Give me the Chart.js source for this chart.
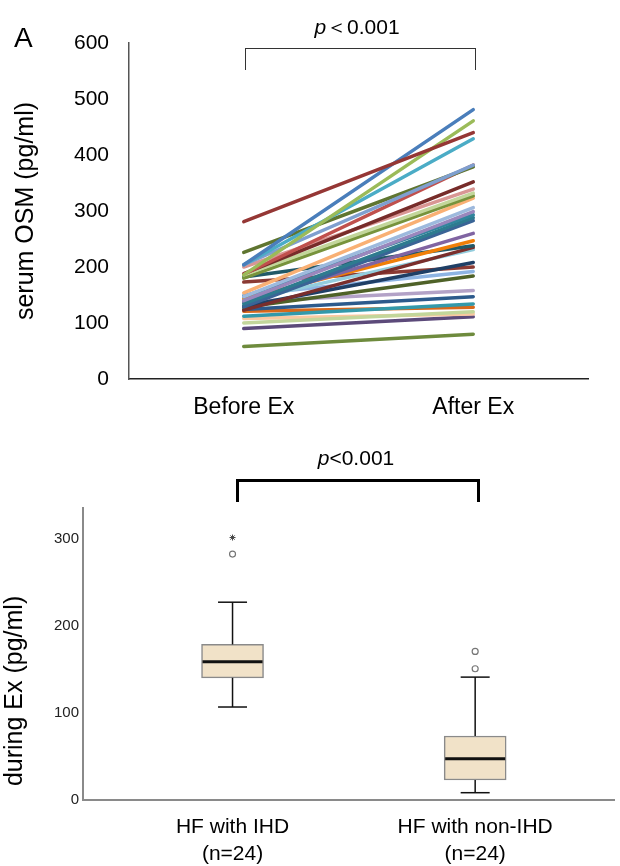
<!DOCTYPE html>
<html><head><meta charset="utf-8">
<script src="https://cdn.jsdelivr.net/npm/chart.js@4.4.1/dist/chart.umd.min.js"></script>
<style>
html,body{margin:0;padding:0;background:#fff;}
body{width:620px;height:866px;position:relative;overflow:hidden;font-family:"Liberation Sans",Arial,sans-serif;}
canvas{position:absolute;left:0;}
.t{position:absolute;white-space:nowrap;color:#000;text-align:center;}
.br{position:absolute;border-bottom:none !important;}
</style></head><body>
<canvas id="c1" width="620" height="440" style="top:0"></canvas>
<canvas id="c2" width="620" height="426" style="top:440px"></canvas>

<div class="t" style="left:14px;top:24px;font-size:28px;line-height:28px;">A</div>
<div class="t" style="left:257px;top:16px;width:200px;font-size:21px;line-height:21px;"><i>p</i>＜0.001</div>
<div class="br" style="left:245px;top:48px;width:229px;height:21px;border:1.5px solid #333;"></div>

<div class="t" style="left:256px;top:447px;width:200px;font-size:21px;line-height:21px;"><i>p</i>&lt;0.001</div>
<div class="br" style="left:236px;top:479px;width:238px;height:20px;border:3px solid #000;"></div>

<script>
// ---------- Panel A data ----------
const categories = ['Before Ex', 'After Ex'];
const beforeEx = [281, 204, 186, 204, 204, 226, 187, 188, 200, 186, 180, 154, 147, 140, 147, 134, 129, 138, 143, 182, 123, 140, 130, 173, 150, 128, 138, 124, 112, 121, 100, 108, 90, 58];
const afterEx  = [440, 481, 461, 429, 382, 379, 382, 352, 339, 332, 327, 323, 306, 299, 293, 288, 283, 260, 247, 238, 235, 231, 208, 200, 192, 184, 158, 147, 134, 128, 120, 116, 111, 80];
const lineColors = ['#953735','#4A7EBB','#9BBB59','#4BACC6','#7F9FCF','#5F7530','#C0504D','#772C2A','#D99694','#C3D69B','#77933C','#F9B074','#9DB9DD','#9A87BD','#31859C','#2E7B8F','#3A6496','#8064A2','#F07F09','#215968','#7A2E2C','#93CDDD','#1F3F66','#8B3A33','#8EB4E3','#4F6228','#B3A2C7','#2C5A8C','#3399AA','#D8681A','#C3D69B','#FAC8A0','#5C4A7A','#6E8B3D'];
const yTicksA = [0, 100, 200, 300, 400, 500, 600];

// ---------- Panel B data ----------
const groupLabels = [['HF with IHD', '(n=24)'], ['HF with non-IHD', '(n=24)']];
const groupPos = [1, 2];
const whiskerLow  = [107, 8.4];
const q1          = [140.6, 23];
const median      = [159, 47.5];
const q3          = [179, 73.6];
const whiskerHigh = [227.6, 141.4];
const outlierCircleGroup = [1, 2, 2];
const outlierCircleValue = [283, 171, 151];
const outlierStarGroup = [1];
const outlierStarValue = [302];
const yTicksB = [0, 100, 200, 300];

const FONT = '"Liberation Sans", Arial, sans-serif';

// ---------- Chart A ----------
new Chart(document.getElementById('c1'), {
  type: 'line',
  data: {
    labels: categories,
    datasets: beforeEx.map((b, i) => ({
      data: [b, afterEx[i]],
      borderColor: lineColors[i],
      borderWidth: 3.5,
      borderCapStyle: 'round',
      pointRadius: 0,
      fill: false,
      tension: 0
    }))
  },
  options: {
    responsive: false,
    animation: false,
    events: [],
    layout: { padding: { left: 0, top: 43, right: 32, bottom: 0 } },
    plugins: { legend: { display: false }, tooltip: { enabled: false } },
    scales: {
      x: {
        type: 'category',
        offset: true,
        grid: { display: false, drawTicks: false },
        border: { display: true, color: '#222', width: 1.5 },
        ticks: { color: '#000', font: { family: FONT, size: 23 }, padding: 15, maxRotation: 0 },
        afterFit: s => { s.height = 61; }
      },
      y: {
        min: 0, max: 600,
        afterBuildTicks: s => { s.ticks = yTicksA.map(v => ({ value: v })); },
        grid: { display: false, drawTicks: false },
        border: { display: true, color: '#555', width: 1.5 },
        ticks: { color: '#000', font: { family: FONT, size: 21 }, padding: 20 },
        title: { display: true, text: 'serum OSM (pg/ml)', color: '#000', font: { family: FONT, size: 25, lineHeight: 1.2 }, padding: { top: 11, bottom: 0 } },
        afterFit: s => { s.width = 129; }
      }
    }
  }
});

// ---------- Chart B ----------
const boxPlugin = {
  id: 'boxWhiskers',
  afterDatasetsDraw(chart) {
    const { ctx, scales: { x, y } } = chart;
    ctx.save();
    ctx.strokeStyle = '#111';
    const seg = (x1, y1, x2, y2) => { ctx.beginPath(); ctx.moveTo(x1, y1); ctx.lineTo(x2, y2); ctx.stroke(); };
    groupPos.forEach((p, i) => {
      const cx = x.getPixelForValue(p);
      const yHi = y.getPixelForValue(whiskerHigh[i]);
      const yLo = y.getPixelForValue(whiskerLow[i]);
      const yQ3 = y.getPixelForValue(q3[i]);
      const yQ1 = y.getPixelForValue(q1[i]);
      const yMed = y.getPixelForValue(median[i]);
      ctx.lineWidth = 1.5;
      seg(cx, yQ3, cx, yHi);
      seg(cx - 14.5, yHi, cx + 14.5, yHi);
      seg(cx, yQ1, cx, yLo);
      seg(cx - 14.5, yLo, cx + 14.5, yLo);
      ctx.lineWidth = 3;
      seg(cx - 30, yMed, cx + 30, yMed);
    });
    ctx.restore();
  }
};

new Chart(document.getElementById('c2'), {
  type: 'bar',
  data: {
    datasets: [
      {
        type: 'scatter',
        data: outlierCircleGroup.map((g, i) => ({ x: g, y: outlierCircleValue[i] })),
        pointStyle: 'circle', pointRadius: 3, borderColor: '#777', backgroundColor: '#fff', borderWidth: 1.2
      },
      {
        type: 'scatter',
        data: outlierStarGroup.map((g, i) => ({ x: g, y: outlierStarValue[i] })),
        pointStyle: 'star', pointRadius: 3, borderColor: '#444', backgroundColor: '#444', borderWidth: 1
      },
      {
        type: 'bar',
        data: groupPos.map((p, i) => ({ x: p, y: [q1[i], q3[i]] })),
        backgroundColor: '#F1E2C8',
        borderColor: '#8a8a8a',
        borderWidth: 1.5,
        borderSkipped: false,
        barThickness: 62
      }
    ]
  },
  options: {
    responsive: false,
    animation: false,
    events: [],
    layout: { padding: { left: 0, top: 68, right: 0, bottom: 0 } },
    plugins: { legend: { display: false }, tooltip: { enabled: false } },
    scales: {
      x: {
        type: 'linear',
        offset: false,
        min: 0.3837, max: 2.5755,
        afterBuildTicks: s => { s.ticks = groupPos.map(v => ({ value: v })); },
        grid: { display: false, drawTicks: false, offset: false },
        border: { display: true, color: '#8a8a8a', width: 2 },
        ticks: {
          color: '#000', font: { family: FONT, size: 21, lineHeight: 1.285 }, padding: 14, maxRotation: 0,
          callback: v => groupLabels[groupPos.indexOf(v)]
        },
        afterFit: s => { s.height = 66; }
      },
      y: {
        min: 0, max: 336,
        afterBuildTicks: s => { s.ticks = yTicksB.map(v => ({ value: v })); },
        grid: { display: false, drawTicks: false },
        border: { display: true, color: '#8a8a8a', width: 2 },
        ticks: { color: '#222', font: { family: FONT, size: 15 }, padding: 4 },
        title: { display: true, text: '  during Ex (pg/ml)', align: 'start', color: '#000', font: { family: FONT, size: 25, lineHeight: 1.2 }, padding: { top: 0, bottom: 0 } },
        afterFit: s => { s.width = 83; }
      }
    }
  },
  plugins: [boxPlugin]
});
</script>
</body></html>
